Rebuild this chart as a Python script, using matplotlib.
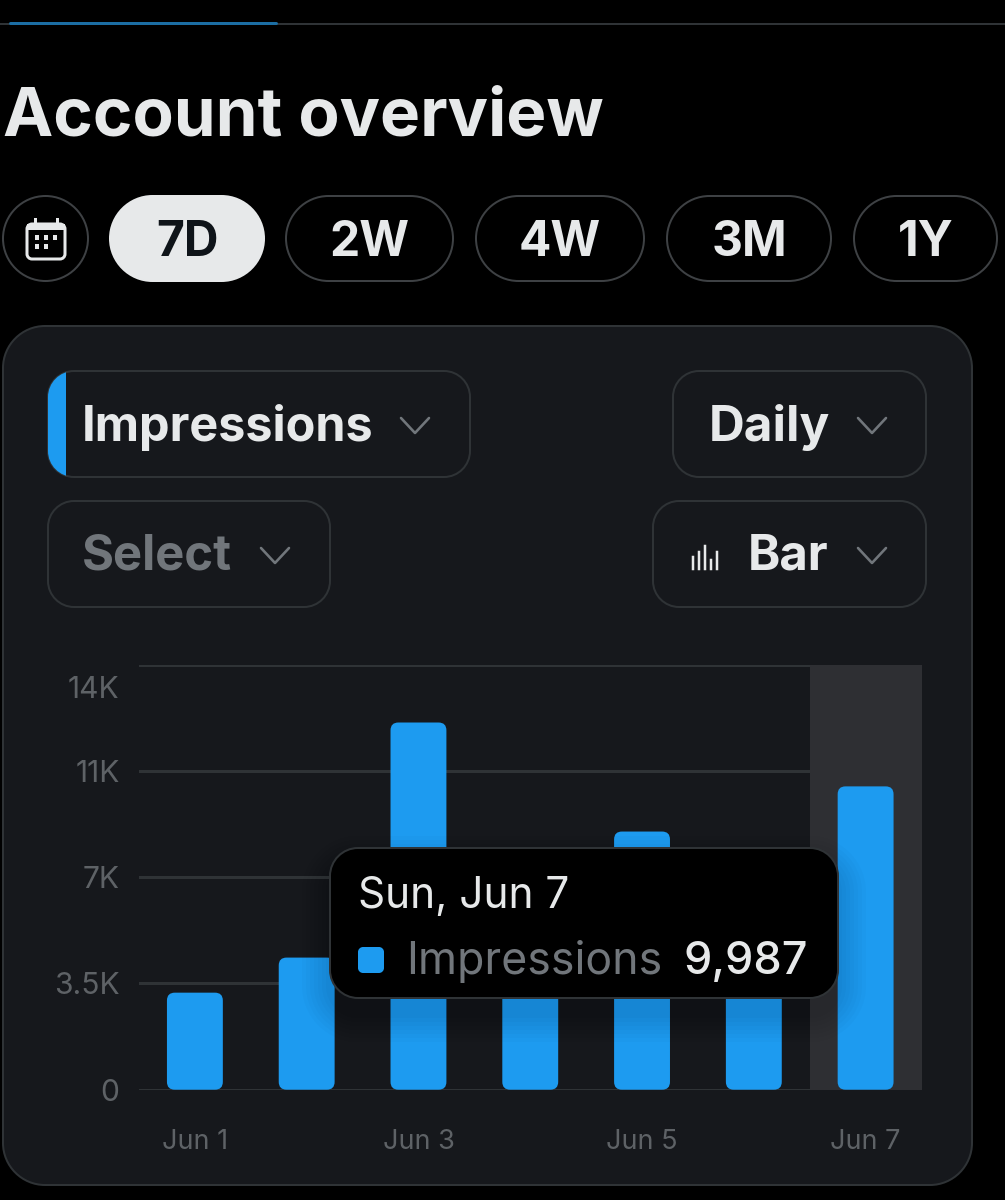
import matplotlib
matplotlib.use('Agg')
import matplotlib.pyplot as plt
from matplotlib.patches import FancyBboxPatch, PathPatch, Rectangle
from matplotlib.path import Path
from matplotlib.transforms import ScaledTranslation

# data
days = ['Jun 1', 'Jun 2', 'Jun 3', 'Jun 4', 'Jun 5', 'Jun 6', 'Jun 7']
impressions = [3195, 4350, 12090, 6000, 8500, 5000, 9987]   # Jun 4 and Jun 6 tops are hidden by the tooltip
y_ticks = [0, 3500, 7000, 10500, 14000]
y_labels = ['0', '3.5K', '7K', '11K', '14K']
x_labels = ['Jun 1', '', 'Jun 3', '', 'Jun 5', '', 'Jun 7']
ranges = ['7D', '2W', '4W', '3M', '1Y']

W, H = 1005, 1200
BLUE = '#1D9BF0'
BORDER = '#2F3336'
CARD = '#16181C'
LIGHT = '#E7E9EA'
GREY = '#71767B'
TICK = '#5E6266'
plt.rcParams['font.family'] = ['Inter', 'DejaVu Sans']


def px(size):
    return size * 0.72


def pixel_axes(zorder):
    a = fig.add_axes([0, 0, 1, 1], zorder=zorder)
    a.set_xlim(0, W)
    a.set_ylim(H, 0)
    a.axis('off')
    a.patch.set_alpha(0)
    return a


def box(a, x0, y0, x1, y1, r, fc='none', ec='none', lw=2, **kw):
    # circular corners, the 'round' boxstyle comes out too square on the pills
    k = r * 0.45
    verts = [(x0 + r, y0), (x1 - r, y0), (x1 - k, y0), (x1, y0 + k), (x1, y0 + r),
             (x1, y1 - r), (x1, y1 - k), (x1 - k, y1), (x1 - r, y1),
             (x0 + r, y1), (x0 + k, y1), (x0, y1 - k), (x0, y1 - r),
             (x0, y0 + r), (x0, y0 + k), (x0 + k, y0), (x0 + r, y0), (x0 + r, y0)]
    codes = [Path.MOVETO, Path.LINETO, Path.CURVE4, Path.CURVE4, Path.CURVE4,
             Path.LINETO, Path.CURVE4, Path.CURVE4, Path.CURVE4,
             Path.LINETO, Path.CURVE4, Path.CURVE4, Path.CURVE4,
             Path.LINETO, Path.CURVE4, Path.CURVE4, Path.CURVE4, Path.CLOSEPOLY]
    p = PathPatch(Path(verts, codes), fc=fc, ec=ec, lw=lw * 0.72, **kw)
    a.add_patch(p)
    return p


def chevron(a, x, y):
    a.plot([x, x + 14, x + 28], [y, y + 15, y], color=GREY, lw=px(2.6), solid_capstyle='round')


#=======================================================
fig = plt.figure(figsize=(W / 100, H / 100), dpi=100, facecolor='black')
bg = pixel_axes(0)
fg = pixel_axes(3)

# tab line
bg.plot([0, W], [24, 24], color=BORDER, lw=px(2))
bg.plot([10, 276], [23, 23], color='#1C6EA4', lw=px(3), solid_capstyle='round')

bg.text(3, 135, 'Account overview', color=LIGHT, fontsize=px(67.4), fontweight='bold', va='baseline')

# range pills
box(bg, 3, 196, 88, 281, 42.5, ec='#3E4144')
pill_x = [(110, 264), (286, 453), (476, 644), (667, 831), (854, 997)]
for i, r in enumerate(ranges):
    x0, x1 = pill_x[i]
    active = i == 0
    box(bg, x0, 196, x1, 281, 42.5, fc=LIGHT if active else 'none', ec=LIGHT if active else '#3E4144')
    bg.text((x0 + x1) / 2, 256, r, color='#0F1419' if active else LIGHT, fontsize=px(48),
            fontweight='bold', ha='center', va='baseline')

# calendar icon
box(bg, 27, 224, 65, 259, 5, ec=LIGHT, lw=3)
bg.add_patch(Rectangle((27, 224), 38, 6, fc=LIGHT))
bg.plot([35, 35], [219, 226], color=LIGHT, lw=px(3))
bg.plot([57, 57], [219, 226], color=LIGHT, lw=px(3))
for cx, cy in [(37, 237), (46, 237), (55, 237), (37, 246), (46, 246)]:
    bg.add_patch(Rectangle((cx - 2, cy - 2), 4, 5, fc=LIGHT))

# card
box(bg, 3, 326, 972, 1185, 42, fc=CARD, ec=BORDER)

# dropdowns
box(bg, 48, 371, 470, 477, 26, ec=BORDER)
box(bg, 673, 371, 926, 477, 26, ec=BORDER)
box(bg, 48, 501, 330, 607, 26, ec=BORDER)
box(bg, 653, 501, 926, 607, 26, ec=BORDER)
stripe = Rectangle((48, 371), 18, 106, fc=BLUE)
bg.add_patch(stripe)
stripe.set_clip_path(box(bg, 48, 371, 470, 477, 26))

bg.text(82, 441, 'Impressions', color=LIGHT, fontsize=px(48.6), fontweight='bold')
bg.text(709, 441, 'Daily', color=LIGHT, fontsize=px(49.5), fontweight='bold')
bg.text(82, 570, 'Select', color=GREY, fontsize=px(49), fontweight='bold')
bg.text(748, 570, 'Bar', color=LIGHT, fontsize=px(49), fontweight='bold')
chevron(bg, 401, 418)
chevron(bg, 858, 418)
chevron(bg, 261, 548)
chevron(bg, 858, 548)
for x, top in [(693, 557), (699, 552), (705, 546), (711, 560), (717, 552)]:
    bg.plot([x, x], [top, 569], color=LIGHT, lw=px(2.5))

#=======================================================
# chart
ax = fig.add_axes([139 / W, 1 - 1089.7 / H, (921.5 - 139) / W, (1089.7 - 664.5) / H], zorder=1)
ax.patch.set_alpha(0)
ax.set_xlim(-0.5, 6.5)
ax.set_ylim(0, 14000)
for s in ax.spines.values():
    s.set_visible(False)
ax.set_axisbelow(True)
ax.grid(axis='y', color=BORDER, lw=px(3))
ax.axvspan(5.5, 6.5, color='#2E2F33', lw=0, zorder=1)

# rounded bars: aspect turns the rounding into the same size on both axes
aspect = (14000 / 425) / (7 / 783)
for i, v in enumerate(impressions):
    ax.add_patch(FancyBboxPatch((i - 0.25, 0), 0.5, v, boxstyle='round,pad=0,rounding_size=0.07',
                                mutation_aspect=aspect, fc=BLUE, ec='none', zorder=2, clip_on=False))

ax.set_xticks(range(len(days)))
ax.set_xticklabels(x_labels)
ax.set_yticks(y_ticks)
ax.set_yticklabels(y_labels)
ax.tick_params(axis='both', length=0, colors=TICK)
ax.tick_params(axis='x', pad=28, labelsize=px(27))
ax.tick_params(axis='y', pad=14, labelsize=px(30))
top_label = ax.get_yticklabels()[-1]
top_label.set_transform(top_label.get_transform() + ScaledTranslation(0, -23 / 100, fig.dpi_scale_trans))

#=======================================================
# tooltip with soft shadow
for grow in range(28, 0, -4):
    box(fg, 330 - grow, 848 - grow + 16, 838 + grow, 998 + grow + 16, 28 + grow, fc='black', alpha=0.014)
box(fg, 330, 848, 838, 998, 28, fc='black', ec=BORDER)
fg.text(358, 908, 'Sun, Jun 7', color=LIGHT, fontsize=px(42.4), va='baseline')
box(fg, 358, 947, 384, 973, 5, fc=BLUE)
fg.text(406, 974, 'Impressions', color=GREY, fontsize=px(44.6), va='baseline')
fg.text(808, 974, '{:,}'.format(impressions[-1]), color=LIGHT, fontsize=px(45), fontweight='medium',
        ha='right', va='baseline')

fig.savefig('out.png', dpi=100, facecolor='black')
